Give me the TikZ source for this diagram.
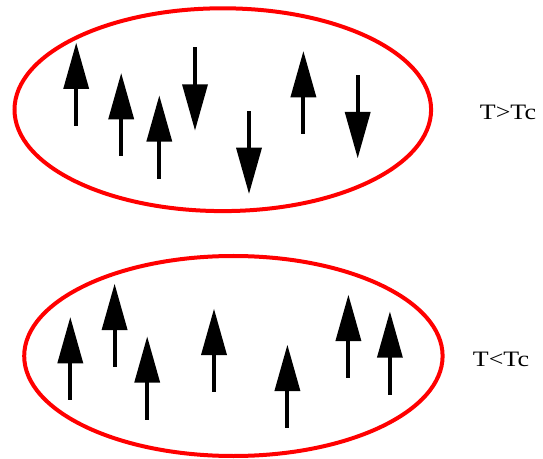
\documentclass[tikz,border=0pt]{standalone}
\usepackage{fontspec}
\setmainfont{Liberation Serif}
\begin{document}
\begin{tikzpicture}[x=1pt,y=1pt,
  phasering/.style={draw=red,line width=4pt},
  phaselabel/.style={font=\fontsize{22}{24}\selectfont,xscale=1.18,inner sep=0pt},
  spin/.pic={
    % arrow head sits on the origin, shaft hangs below it
    \fill[black] (-13,0) -- (0,46) -- (13,0) -- cycle;
    \fill[black] (-2,0.5) rectangle (2,-37);
  }]
\useasboundingbox (0,0) rectangle (543,458);

% disordered phase
\draw[phasering] (222.8,348.3) ellipse [x radius=208.3, y radius=101.4];
\pic at (76.2,369) {spin};
\pic at (121.2,338.7) {spin};
\pic at (159.3,316.3) {spin};
\pic at (303.4,360.7) {spin};
\pic[rotate=180] at (195,373.7) {spin};
\pic[rotate=180] at (249,310.3) {spin};
\pic[rotate=180] at (357.7,346) {spin};
\node[phaselabel] (hot) at (508,346) {T>Tc};

% ordered phase
\draw[phasering] (233.4,102) ellipse [x radius=209.2, y radius=100];
\pic at (70.3,94.7) {spin};
\pic at (114.6,128) {spin};
\pic at (147.2,75.3) {spin};
\pic at (214,103) {spin};
\pic at (287.4,67) {spin};
\pic at (348.4,117) {spin};
\pic at (389.9,100.3) {spin};
\node[phaselabel] (cold) at (501,99) {T<Tc};
\end{tikzpicture}
\end{document}
